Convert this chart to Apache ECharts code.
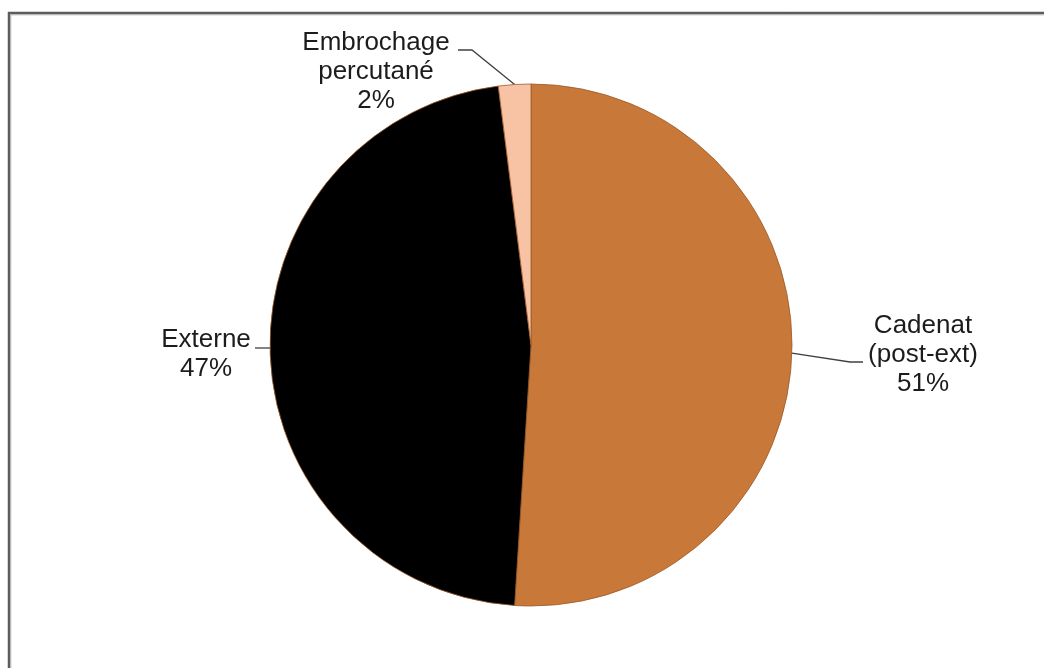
<!DOCTYPE html>
<html>
<head>
<meta charset="utf-8">
<script src="https://cdn.jsdelivr.net/npm/echarts@6/dist/echarts.min.js"></script>
<style>
  html, body { margin: 0; padding: 0; background: #fff; }
  #chart { width: 1044px; height: 668px; }
</style>
</head>
<body>
<div id="chart"></div>
<script>
// Répartition des techniques (en %)
const categories = ['Cadenat\n(post-ext)', 'Externe', 'Embrochage\npercutané'];
const shares = [51, 47, 2];
const sliceColors = ['#C8793A', '#000000', '#F8C3A5'];

// Label placement: text centre and leader-line path (from the slice edge)
const labelSpots = [
  { x: 923, y: 355, path: [[850, 362], [863, 362]] },
  { x: 206, y: 354, path: [[255, 348]], start: [270, 348] },
  { x: 376, y: 72,  path: [[472, 50], [458, 50]] }
];

const chart = echarts.init(document.getElementById('chart'), null, { renderer: 'canvas' });

chart.setOption({
  animation: false,
  backgroundColor: '#ffffff',
  graphic: [
    {
      type: 'polyline',
      shape: { points: [[9, 700], [9, 13], [1100, 13]] },
      style: { stroke: '#5c5c5c', lineWidth: 2.5, fill: null },
      silent: true
    },
    {
      type: 'polyline',
      shape: { points: [[10.8, 700], [10.8, 14.8], [1100, 14.8]] },
      style: { stroke: '#b0b0b0', lineWidth: 1, fill: null },
      silent: true
    }
  ],
  series: [{
    type: 'pie',
    center: [531, 345],
    radius: 261,
    startAngle: 90,
    clockwise: true,
    avoidLabelOverlap: false,
    data: categories.map((name, i) => ({
      name: name,
      value: shares[i],
      itemStyle: { color: sliceColors[i] }
    })),
    itemStyle: { borderColor: '#9c5a28', borderWidth: 0.8 },
    label: {
      show: true,
      position: 'outside',
      formatter: (p) => p.name + '\n' + p.value + '%',
      fontFamily: '"Liberation Sans", Arial, sans-serif',
      fontSize: 26,
      lineHeight: 29,
      color: '#1c1c1c',
      align: 'center'
    },
    labelLine: {
      show: true,
      lineStyle: { color: '#404040', width: 1.3 }
    },
    labelLayout: (params) => {
      const spot = labelSpots[params.dataIndex];
      const start = spot.start || params.labelLinePoints[0];
      return {
        x: spot.x,
        y: spot.y,
        align: 'center',
        verticalAlign: 'middle',
        labelLinePoints: [start].concat(spot.path)
      };
    },
    emphasis: { disabled: true }
  }]
});
</script>
</body>
</html>
